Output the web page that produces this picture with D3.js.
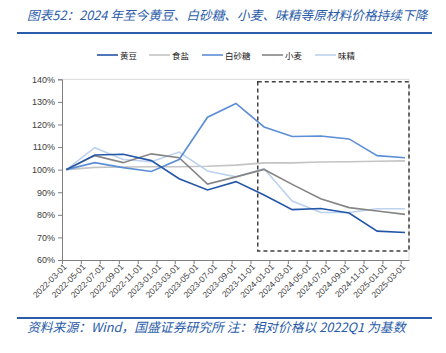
<!DOCTYPE html>
<html>
<head>
<meta charset="utf-8">
<script src="https://cdn.jsdelivr.net/npm/d3@7"></script>
<style>
  body { margin: 0; background: #fff; }
  svg { display: block; }
</style>
</head>
<body>
<div id="chart"></div>
<script>
// data: relative price, 2022Q1 = 100%
const dates = ["2022-03-15", "2022-06-15", "2022-09-15", "2022-12-15", "2023-03-15", "2023-06-15",
               "2023-09-15", "2023-12-15", "2024-03-15", "2024-06-15", "2024-09-15", "2024-12-15", "2025-03-15"]
const soybean = [100, 106.5, 106.8, 104, 96, 91, 94.7, 88.8, 82.3, 82.8, 80.8, 72.8, 72.2]
const salt    = [100, 101, 101.2, 101.3, 101.3, 101.5, 102, 103, 103, 103.4, 103.5, 103.7, 103.9]
const sugar   = [100, 103.1, 100.9, 99.2, 104.5, 123.2, 129.3, 118.9, 114.7, 114.9, 113.6, 106.2, 105.3]
const wheat   = [100, 106.2, 103.1, 107, 105.3, 93.6, 96.8, 100.1, 93.5, 87.1, 83.2, 81.7, 80.2]
const msg     = [100, 109.7, 104.5, 103.5, 107.8, 99.4, 96.8, 100.4, 86.1, 81.1, 81, 82.7, 82.7]

const series_names = ["黄豆", "食盐", "白砂糖", "小麦", "味精"]
const series_values = [soybean, salt, sugar, wheat, msg]
const series_colors = ["#2456a8", "#c4c4c4", "#5b8ed6", "#858585", "#bdd2ee"]

const y_ticks = [60, 70, 80, 90, 100, 110, 120, 130, 140]
const box_start = "2023-12-01"

const width = 446, height = 353
const blue = "#2a5caa"
const parse = d3.timeParse("%Y-%m-%d")

const svg = d3.select("#chart").append("svg")
    .attr("width", width)
    .attr("height", height)
    .style("font-family", "'Noto Sans CJK SC', sans-serif")

// title
svg.append("text")
    .attr("x", 27).attr("y", 20)
    .attr("fill", blue)
    .attr("font-size", 12.7)
    .attr("font-style", "italic")
    .text("图表52：2024 年至今黄豆、白砂糖、小麦、味精等原材料价格持续下降")

svg.append("line")
    .attr("x1", 17).attr("x2", 432).attr("y1", 33).attr("y2", 33)
    .attr("stroke", blue).attr("stroke-width", 2)

// scales
const x = d3.scaleTime()
    .domain([parse("2022-03-01"), parse("2025-03-28")])
    .range([62, 409])
const y = d3.scaleLinear()
    .domain([60, 140])
    .range([260, 79.3])

const plot = svg.append("g").style("font-family", "'Liberation Sans', Arial, sans-serif")

// plot border top / right
plot.append("path")
    .attr("d", `M${x.range()[0]},${y(140)}H${x.range()[1]}V${y(60)}`)
    .attr("fill", "none").attr("stroke", "#d9d9d9").attr("stroke-width", 1)

// y axis
const y_axis = plot.append("g")
    .attr("transform", `translate(${x.range()[0]},0)`)
    .call(d3.axisLeft(y)
            .tickValues(y_ticks)
            .tickSize(4)
            .tickPadding(3)
            .tickFormat(d => d + "%"))
y_axis.select(".domain").attr("stroke", "#7f7f7f")
y_axis.selectAll(".tick line").attr("stroke", "#7f7f7f")
y_axis.selectAll("text").attr("fill", "#404040").attr("font-size", 9)
    .style("font-family", "'Liberation Sans', Arial, sans-serif")

// x axis
const x_axis = plot.append("g")
    .attr("transform", `translate(0,${y(60)})`)
    .call(d3.axisBottom(x)
            .ticks(d3.timeMonth.every(2))
            .tickSize(4)
            .tickSizeOuter(0)
            .tickFormat(d3.timeFormat("%Y-%m-%d")))
x_axis.select(".domain").attr("stroke", "#7f7f7f")
x_axis.selectAll(".tick line").attr("stroke", "#7f7f7f")
x_axis.selectAll("text")
    .attr("fill", "#404040")
    .attr("font-size", 8.5)
    .style("font-family", "'Liberation Sans', Arial, sans-serif")
    .attr("text-anchor", "end")
    .attr("transform", "translate(4,4) rotate(-45)")
    .attr("dy", "0.35em")
    .attr("y", 0)
    .attr("x", -2)

// lines
const line = d3.line()
    .x((d, i) => x(parse(dates[i])))
    .y(d => y(d))

// draw order: lighter ones first
const order = [1, 4, 3, 2, 0]
order.forEach(k => {
    plot.append("path")
        .datum(series_values[k])
        .attr("d", line)
        .attr("fill", "none")
        .attr("stroke", series_colors[k])
        .attr("stroke-width", 1.6)
})

// dashed highlight box
plot.append("rect")
    .attr("x", x(parse(box_start)) - 2)
    .attr("y", y(140) + 2.5)
    .attr("width", x.range()[1] - x(parse(box_start)) + 2)
    .attr("height", y(64) - y(140) - 2.5)
    .attr("fill", "none")
    .attr("stroke", "#404040")
    .attr("stroke-width", 1.5)
    .attr("stroke-dasharray", "4,3")

// legend
const legend_x = [97, 149, 202, 262, 315]
const legend = svg.append("g")
legend_x.forEach((lx, i) => {
    legend.append("line")
        .attr("x1", lx).attr("x2", lx + 21)
        .attr("y1", 55).attr("y2", 55)
        .attr("stroke", series_colors[i]).attr("stroke-width", 1.6)
    legend.append("text")
        .attr("x", lx + 23).attr("y", 58.5)
        .attr("font-size", 8.5)
        .attr("fill", "#222")
        .text(series_names[i])
})

// footer
svg.append("line")
    .attr("x1", 17).attr("x2", 432).attr("y1", 318).attr("y2", 318)
    .attr("stroke", blue).attr("stroke-width", 2)

svg.append("text")
    .attr("x", 27).attr("y", 332)
    .attr("fill", blue)
    .attr("font-size", 12.8)
    .attr("font-style", "italic")
    .text("资料来源：Wind，国盛证券研究所 注：相对价格以 2022Q1 为基数")
</script>
</body>
</html>
